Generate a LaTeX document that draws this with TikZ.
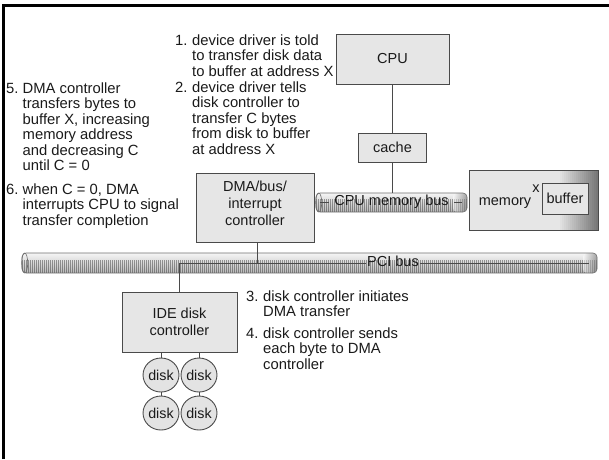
\documentclass[tikz,border=0pt]{standalone}
\usepackage{fontspec}
\setmainfont{Liberation Sans}
\usetikzlibrary{shapes.geometric}
\definecolor{boxfill}{HTML}{E6E6E6}
\definecolor{edge}{HTML}{4A4A4A}
\definecolor{ink}{HTML}{1A1A1A}
\begin{document}
\begin{tikzpicture}[x=1pt,y=-1pt,
  box/.style={draw=edge, line width=1pt, fill=boxfill, inner sep=0pt},
  txt/.style={text=ink, font=\fontsize{14.8}{15.5}\selectfont, inner sep=0pt, align=left},
  lbl/.style={text=ink, font=\fontsize{14.5}{17}\selectfont, inner sep=0pt, align=center},
  wire/.style={draw=edge, line width=0.9pt},
  disk/.style={ellipse, draw=edge, line width=0.9pt, fill=gray!22, minimum width=31pt, minimum height=34pt, inner sep=0pt, text=ink, font=\fontsize{14.3}{15}\selectfont},
  bus/.style={rectangle, rounded corners=4pt, draw=edge!80, line width=0.6pt, inner sep=0pt,
    top color=gray!8, bottom color=gray!55,
    path picture={
      \foreach \i in {0,2,...,600}
        \draw[black, line width=0.45pt, opacity=0.35]
          ([xshift=\i pt]path picture bounding box.south west) --
          ([xshift=\i pt, yshift=13pt]path picture bounding box.south west);
      \shade[left color=white, right color=gray!80!black, opacity=0.55]
          ([xshift=-14pt]path picture bounding box.north east) rectangle (path picture bounding box.south east);
    }},
]
\useasboundingbox (0,0) rectangle (609,459);

% frame
\draw[line width=3pt, black] (3.6,459) -- (3.6,5) -- (609,5);

% boxes
\node[box, lbl, minimum width=113pt, minimum height=50pt] (cpu) at (392.5,59) {CPU};
\node[box, lbl, minimum width=68pt, minimum height=29pt] (cache) at (392.5,147.5) {cache};
\node[box, minimum width=118pt, minimum height=69pt] (dma) at (255,207.5) {};
\node[lbl] (dmal) at (255,203.3) {DMA/bus/\\interrupt\\controller};
\node[box, minimum width=129pt, minimum height=60pt,
  path picture={\foreach \k in {0,...,19}
    \fill[black, opacity=0.025*\k]
      ([xshift=-40pt+2*\k pt]path picture bounding box.north east) rectangle
      ([xshift=-38pt+2*\k pt]path picture bounding box.south east);}]
  (mem) at (533.5,200) {};
\node[lbl, anchor=base] (meml) at (505,205) {memory};
\node[box, lbl, minimum width=46pt, minimum height=31pt] (buf) at (565,198.5) {buffer};
\node[lbl, anchor=base] (xmark) at (536,192) {x};
\node[box, lbl, minimum width=115pt, minimum height=60pt] (ide) at (179.5,322) {IDE disk\\controller};

% buses
\node[bus, minimum width=151pt, minimum height=19pt] (cmb) at (391.5,202.5) {};
\draw[edge!80, line width=0.6pt] ([xshift=3pt]cmb.west) ellipse [x radius=3pt, y radius=9.5pt];
\node[lbl, inner xsep=5pt] (cmbl) at (391.5,201.5) {CPU memory bus};
\draw[wire] ([xshift=4pt]cmb.west) -- (cmbl.west |- cmb.center);
\draw[wire] (cmbl.east |- cmb.center) -- ([xshift=-5pt]cmb.east);

\node[bus, minimum width=575pt, minimum height=20pt] (pci) at (309.5,263) {};
\draw[edge!80, line width=0.6pt] ([xshift=3pt]pci.west) ellipse [x radius=3pt, y radius=10pt];
\node[lbl, inner xsep=1pt] (pcil) at (393,261.5) {PCI bus};

% disks
\node[disk] (d1) at (161,375) {disk};
\node[disk] (d2) at (199,375) {disk};
\node[disk] (d3) at (161,413) {disk};
\node[disk] (d4) at (199,413) {disk};

% connectors
\draw[wire] (cpu.south) -- (cache.north);
\draw[wire] (cache.south) -- (cache.south |- cmb.north);
\draw[wire] ([xshift=2pt]dma.south) -- ([xshift=2pt]dma.south |- pci.center);
\draw[wire] (ide.north |- pci.center) -- (ide.north);
\draw[wire] (ide.north |- pci.center) -- (pcil.west |- pci.center);
\draw[wire] (pcil.east |- pci.center) -- ([xshift=-8pt]pci.east);
\draw[wire] (d1.north |- ide.south) -- (d1.north);
\draw[wire] (d2.north |- ide.south) -- (d2.north);
\draw[wire] (d1.south) -- (d3.north);
\draw[wire] (d2.south) -- (d4.north);

% annotations
\node[txt, anchor=base west] (n1) at (175,45) {1.};
\node[txt, anchor=north west] (t1) at (192,34.15) {\strut device driver is told\\to transfer disk data\\to buffer at address X};
\node[txt, anchor=base west] (n2) at (175,92) {2.};
\node[txt, anchor=north west] (t2) at (192,81.15) {\strut device driver tells\\disk controller to\\transfer C bytes\\from disk to buffer\\at address X};
\node[txt, anchor=base west] (n5) at (6,93) {5.};
\node[txt, anchor=north west] (t5) at (22.5,82.15) {\strut DMA controller\\transfers bytes to\\buffer X, increasing\\memory address\\and decreasing C\\until C = 0};
\node[txt, anchor=base west] (n6) at (6,194) {6.};
\node[txt, anchor=north west] (t6) at (22.5,183.15) {\strut when C = 0, DMA\\interrupts CPU to signal\\transfer completion};
\node[txt, anchor=base west] (n3) at (246,301) {3.};
\node[txt, anchor=north west] (t3) at (263,290.15) {\strut disk controller initiates\\DMA transfer};
\node[txt, anchor=base west] (n4) at (246,338) {4.};
\node[txt, anchor=north west] (t4) at (263,327.15) {\strut disk controller sends\\each byte to DMA\\controller};
\end{tikzpicture}
\end{document}
